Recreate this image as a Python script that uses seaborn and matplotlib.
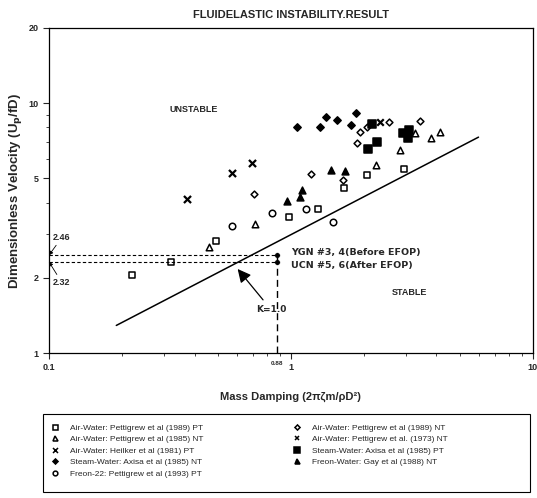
import numpy as np
import pandas as pd
import matplotlib
matplotlib.use("Agg")
import matplotlib.pyplot as plt
from matplotlib.lines import Line2D
from matplotlib.patches import Rectangle
import seaborn as sns

# ---------------- data ----------------
sq_x = [0.22, 0.32, 0.49, 0.98, 1.29, 1.66, 2.07, 2.94]
sq_y = [2.05, 2.31, 2.81, 3.50, 3.77, 4.57, 5.15, 5.44]

tri_x = [0.457, 0.710, 2.25, 2.83, 3.27, 3.81, 4.15]
tri_y = [2.65, 3.28, 5.65, 6.49, 7.59, 7.24, 7.66]

heil_x = [0.374, 0.574, 0.689]
heil_y = [4.13, 5.25, 5.75]

sdia_x = [1.06, 1.32, 1.40, 1.55, 1.86, 1.77]
sdia_y = [8.02, 8.02, 8.79, 8.55, 9.12, 8.17]

circ_x = [0.574, 0.834, 1.16, 1.49]
circ_y = [3.22, 3.63, 3.77, 3.34]

odia_x = [0.702, 1.21, 1.93, 2.07, 2.55, 3.43, 1.88, 1.64]
odia_y = [4.33, 5.20, 7.66, 8.02, 8.40, 8.47, 6.92, 4.92]

x73_x = [2.34]
x73_y = [8.40]

ssq_x = [2.17, 2.27, 2.09, 2.92, 3.09, 3.06]
ssq_y = [8.24, 6.98, 6.55, 7.59, 7.80, 7.24]

ftri_x = [0.963, 1.09, 1.11, 1.47, 1.68]
ftri_y = [4.06, 4.21, 4.49, 5.39, 5.35]

line_x = [0.19, 5.97]
line_y = [1.29, 7.31]

plant_x = [0.88, 0.88]
plant_y = [2.46, 2.32]

labels = [
    "Air-Water: Pettigrew et al (1989) PT",
    "Air-Water: Pettigrew et al (1985) NT",
    "Air-Water: Heilker et al (1981) PT",
    "Steam-Water: Axisa et al (1985) NT",
    "Freon-22: Pettigrew et al (1993) PT",
    "Air-Water: Pettigrew et al (1989) NT",
    "Air-Water: Pettigrew et al. (1973) NT",
    "Steam-Water: Axisa et al (1985) PT",
    "Freon-Water: Gay et al (1988) NT",
]

# ---------------- style ----------------
sns.set_style("ticks")
plt.rcParams["font.family"] = ["Liberation Sans", "DejaVu Sans"]

fig = plt.figure(figsize=(5.37, 4.98), dpi=100)
ax = fig.add_axes([0.091, 0.291, 0.901, 0.653])

series = [
    (sq_x, sq_y, "s", "white", 22, 3.6),
    (tri_x, tri_y, "^", "white", 22, 3.6),
    (heil_x, heil_y, "x", "black", 26, 3.6),
    (sdia_x, sdia_y, "D", "black", 14, 2.6),
    (circ_x, circ_y, "o", "white", 22, 3.4),
    (odia_x, odia_y, "D", "white", 12, 2.6),
    (x73_x, x73_y, "x", "black", 22, 3.4),
    (ssq_x, ssq_y, "s", "black", 30, 3.8),
    (ftri_x, ftri_y, "^", "black", 24, 3.6),
]

handles = []
for (xs, ys, m, fc, s, ms), lab in zip(series, labels):
    df = pd.DataFrame({"x": xs, "y": ys})
    if m == "x":
        sns.scatterplot(data=df, x="x", y="y", marker=m, color="black",
                        s=s, linewidth=1.6, ax=ax, legend=False)
    else:
        sns.scatterplot(data=df, x="x", y="y", marker=m, facecolor=fc,
                        edgecolor="black", s=s, linewidth=1.1, ax=ax, legend=False)
    handles.append(Line2D([], [], linestyle="none", marker=m,
                          markerfacecolor=fc, markeredgecolor="black",
                          color="black", markersize=ms,
                          markeredgewidth=1.1))

# stability line
sns.lineplot(x=line_x, y=line_y, color="black", linewidth=1.1, ax=ax)

# plant points and dashed lines
ax.plot([0.1, plant_x[0]], [plant_y[0]] * 2, color="black", lw=0.8, ls=(0, (3, 2)))
ax.plot([0.1, plant_x[1]], [plant_y[1]] * 2, color="black", lw=0.8, ls=(0, (3, 2)))
ax.plot([plant_x[0], plant_x[0]], [1.0, plant_y[0]], color="black", lw=1.0, ls=(0, (5, 3)))
sns.scatterplot(x=plant_x, y=plant_y, color="black", s=16, marker="o", ax=ax, legend=False)

ax.set_xscale("log")
ax.set_yscale("log")
ax.set_xlim(0.1, 10)
ax.set_ylim(1, 20)

ax.set_xticks([0.1, 1, 10])
ax.set_xticklabels(["0.1", "1", "10"])
ax.set_yticks([1, 2, 5, 10, 20])
ax.set_yticklabels(["1", "2", "5", "10", "20"])
ax.tick_params(axis="both", which="major", labelsize=6.5, length=4, width=0.8,
               direction="out")
ax.tick_params(axis="both", which="minor", length=2, width=0.6, direction="out")
for lab in ax.get_xticklabels() + ax.get_yticklabels():
    lab.set_fontweight("bold")
for sp in ax.spines.values():
    sp.set_linewidth(0.9)
    sp.set_color("black")

ax.set_xlabel("Mass Damping (2πζm/ρD²)", fontsize=8, fontweight="bold", labelpad=14)
ax.set_ylabel("Dimensionless Velocity (U$_\\mathbf{p}$/fD)", fontsize=9.5,
              fontweight="bold", labelpad=3)
ax.set_title("FLUIDELASTIC INSTABILITY.RESULT", fontsize=8, fontweight="bold", pad=7)

# annotations
ax.text(0.88, -0.025, "0.88", fontsize=4.5, fontweight="bold", ha="center", va="top",
        transform=ax.get_xaxis_transform(), clip_on=False)

ax.text(0.396, 9.39, "UNSTABLE", fontsize=6.5, fontweight="bold", ha="center", va="center")
ax.text(3.09, 1.75, "STABLE", fontsize=6.5, fontweight="bold", ha="center", va="center")

narrow = ["Liberation Sans Narrow", "DejaVu Sans"]
ax.text(1.0, 2.53, "YGN #3, 4(Before EFOP)", fontsize=6.8, fontweight="bold",
        ha="left", va="center", family=narrow)
ax.text(1.0, 2.24, "UCN #5, 6(After EFOP)", fontsize=6.8, fontweight="bold",
        ha="left", va="center", family=narrow)

ax.annotate("2.46", xy=(0.1, 2.46), xytext=(0.104, 2.9), fontsize=6.5,
            fontweight="bold", ha="left", va="center",
            arrowprops=dict(arrowstyle="-|>", color="black", lw=0.6,
                            mutation_scale=6, shrinkA=0, shrinkB=0))
ax.annotate("2.32", xy=(0.1, 2.32), xytext=(0.104, 1.92), fontsize=6.5,
            fontweight="bold", ha="left", va="center",
            arrowprops=dict(arrowstyle="-|>", color="black", lw=0.6,
                            mutation_scale=6, shrinkA=0, shrinkB=0))

ax.annotate("K=1.0", xy=(0.603, 2.17), xytext=(0.83, 1.49), fontsize=6.5,
            fontweight="bold", ha="center", va="center", family=narrow,
            arrowprops=dict(arrowstyle="-|>", color="black", lw=0.9,
                            mutation_scale=20, shrinkA=2, shrinkB=0))

# legend: frame + two columns
fig.patches.append(Rectangle((0.080, 0.012), 0.907, 0.157, transform=fig.transFigure,
                             facecolor="white", edgecolor="black", linewidth=0.8,
                             zorder=0))
leg_kw = dict(loc="upper left", fontsize=6.0, frameon=False, handletextpad=1.2,
              labelspacing=0.45, borderpad=0, borderaxespad=0, handlelength=1.2)
leg1 = fig.legend(handles[:5], labels[:5], bbox_to_anchor=(0.093, 0.149), **leg_kw)
leg2 = fig.legend(handles[5:], labels[5:], bbox_to_anchor=(0.544, 0.149), **leg_kw)

fig.savefig("out.png", dpi=100)
